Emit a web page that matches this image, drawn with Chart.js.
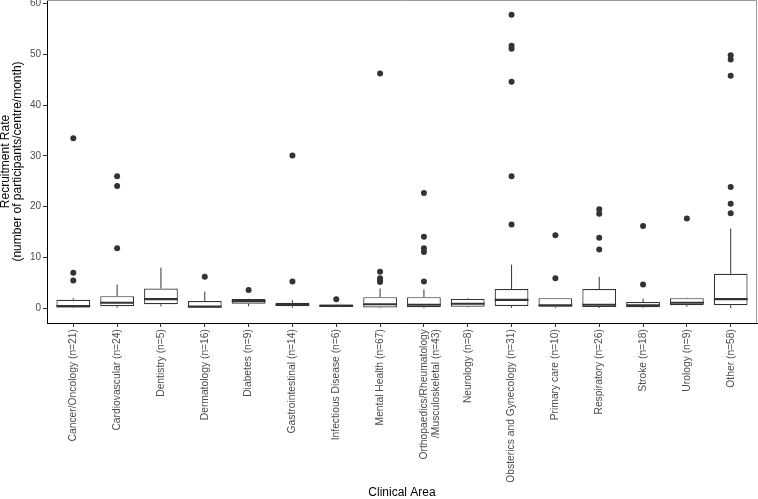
<!DOCTYPE html>
<html>
<head>
<meta charset="utf-8">
<script src="https://cdn.jsdelivr.net/npm/chart.js@4/dist/chart.umd.min.js"></script>
<style>
  body { margin: 0; background: #fff; }
  #wrap { width: 758px; height: 499px; }
</style>
</head>
<body>
<div id="wrap"><canvas id="boxChart" width="758" height="499"></canvas></div>
<script>
// Recruitment rate per clinical area - box plot rebuilt with floating bars
const categories = [
  'Cancer/Oncology (n=21)', 'Cardiovascular (n=24)', 'Dentistry (n=5)', 'Dermatology (n=16)',
  'Diabetes (n=9)', 'Gastrointestinal (n=14)', 'Infectious Disease (n=6)', 'Mental Health (n=67)',
  ['Orthopaedics/Rheumatology', '/Musculoskeletal (n=43)'], 'Neurology (n=8)',
  'Obsterics and Gynecology (n=31)', 'Primary care (n=10)', 'Respiratory (n=26)',
  'Stroke (n=18)', 'Urology (n=9)', 'Other (n=58)'
];
const whiskerLow  = [0.05, 0.1, 0.4, 0.05, 0.4, 0.1, 0.25, 0.02, 0.02, 0.2, 0.1, 0.1, 0.05, 0.05, 0.3, 0.05];
const q1          = [0.15, 0.4, 0.8, 0.15, 0.9, 0.4, 0.3, 0.15, 0.2, 0.3, 0.45, 0.3, 0.25, 0.2, 0.6, 0.6];
const medians     = [0.45, 1.1, 1.8, 0.35, 1.4, 0.7, 0.5, 0.8, 0.7, 0.9, 1.65, 0.6, 0.7, 0.6, 1.1, 1.8];
const q3          = [1.7, 2.4, 3.9, 1.45, 1.85, 1.1, 0.75, 2.2, 2.2, 1.85, 3.8, 2.0, 3.8, 1.25, 2.0, 6.8];
const whiskerHigh = [2.0, 4.7, 8.0, 3.3, 1.9, 1.6, 0.8, 3.9, 3.7, 2.0, 8.6, 2.0, 6.2, 1.9, 2.1, 15.7];
const outliers = [
  [5.5, 7.0, 33.5],
  [11.8, 24.1, 26.0],
  [],
  [6.2],
  [3.6],
  [5.3, 30.1],
  [1.8],
  [5.2, 5.5, 5.9, 7.2, 46.2],
  [5.3, 11.1, 11.8, 14.1, 22.7],
  [],
  [16.5, 26.0, 44.6, 51.1, 51.7, 57.8],
  [5.9, 14.4],
  [11.6, 13.9, 18.6, 19.5],
  [4.7, 16.2],
  [17.7],
  [18.7, 20.6, 23.9, 45.8, 49.0, 49.8]
];
const yTicks = [0, 10, 20, 30, 40, 50, 60];

const ink = '#333333';
const tickGrey = '#4d4d4d';
const font = 'Liberation Sans, Arial, sans-serif';

// whiskers and medians on top of the floating-bar boxes
const boxWhiskers = {
  id: 'boxWhiskers',
  afterDatasetsDraw(chart) {
    const { ctx, scales: { x, y } } = chart;
    const meta = chart.getDatasetMeta(0);
    ctx.save();
    ctx.strokeStyle = ink;
    meta.data.forEach((bar, i) => {
      const cx = x.getPixelForValue(i);
      const half = bar.width / 2;
      ctx.lineWidth = 1;
      ctx.beginPath();
      ctx.moveTo(cx, y.getPixelForValue(q3[i]));
      ctx.lineTo(cx, y.getPixelForValue(whiskerHigh[i]));
      ctx.moveTo(cx, y.getPixelForValue(q1[i]));
      ctx.lineTo(cx, y.getPixelForValue(whiskerLow[i]));
      ctx.stroke();
      const my = y.getPixelForValue(medians[i]);
      ctx.lineWidth = 2.2;
      ctx.beginPath();
      ctx.moveTo(cx - half, my);
      ctx.lineTo(cx + half, my);
      ctx.stroke();
    });
    // panel frame, top and right
    const a = chart.chartArea;
    ctx.strokeStyle = '#9a9a9a';
    ctx.lineWidth = 1;
    ctx.beginPath();
    ctx.moveTo(a.left, a.top + 0.5);
    ctx.lineTo(a.right - 0.5, a.top + 0.5);
    ctx.lineTo(a.right - 0.5, a.bottom);
    ctx.stroke();
    ctx.restore();
  }
};

const outlierPoints = [];
outliers.forEach((vals, i) => vals.forEach(v => outlierPoints.push({ x: i, y: v })));

new Chart(document.getElementById('boxChart'), {
  type: 'bar',
  data: {
    datasets: [{
      data: categories.map((_, i) => ({ x: i, y: [q1[i], q3[i]] })),
      backgroundColor: '#ffffff',
      borderColor: ink,
      borderWidth: 1.2,
      borderSkipped: false,
      barPercentage: 0.77,
      categoryPercentage: 1,
      order: 2
    }, {
      type: 'scatter',
      data: outlierPoints,
      backgroundColor: ink,
      borderColor: ink,
      pointRadius: 3,
      borderWidth: 0,
      order: 1
    }]
  },
  plugins: [boxWhiskers],
  options: {
    responsive: false,
    animation: false,
    layout: { autoPadding: false, padding: { top: 0, right: 1, bottom: 0, left: 0 } },
    plugins: { legend: { display: false }, tooltip: { enabled: false } },
    scales: {
      x: {
        type: 'linear',
        offset: false,
        min: -0.6,
        max: 15.6,
        afterBuildTicks: (scale) => { scale.ticks = categories.map((_, i) => ({ value: i })); },
        afterFit: (scale) => {
          scale.height = 176;
          scale.paddingLeft = 0;
          scale.paddingRight = 0;
        },
        grid: { drawOnChartArea: false, color: ink, tickLength: 4, offset: false },
        border: { color: '#000', width: 1 },
        ticks: {
          autoSkip: false,
          minRotation: 90,
          maxRotation: 90,
          color: tickGrey,
          font: { family: font, size: 10.3 },
          padding: 2,
          callback: (v) => categories[v]
        },
        title: {
          display: true,
          text: 'Clinical Area',
          color: '#000',
          font: { family: font, size: 12, lineHeight: 1.0 },
          padding: { top: 0, bottom: 0 }
        }
      },
      y: {
        min: -2.89,
        max: 60.69,
        afterBuildTicks: (scale) => { scale.ticks = yTicks.map(v => ({ value: v })); },
        afterFit: (scale) => {
          scale.width = 47;
          scale.paddingTop = 0;
          scale.paddingBottom = 0;
        },
        grid: { drawOnChartArea: false, color: ink, tickLength: 4 },
        border: { color: '#000', width: 1 },
        ticks: {
          color: tickGrey,
          font: { family: font, size: 10 },
          padding: 2
        },
        title: {
          display: true,
          text: ['Recruitment Rate', '(number of participants/centre/month)'],
          color: '#000',
          font: { family: font, size: 12, lineHeight: 1.0 },
          padding: { top: 0, bottom: 0 }
        }
      }
    }
  }
});
</script>
</body>
</html>
